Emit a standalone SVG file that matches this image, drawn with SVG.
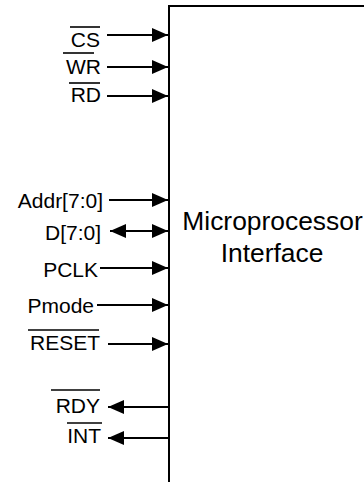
<svg xmlns="http://www.w3.org/2000/svg" width="364" height="482" viewBox="0 0 364 482">
<defs>
<style>
.lbl{font-family:"Liberation Sans",Arial,sans-serif;font-size:21px;fill:#000;text-anchor:end}
.big{font-family:"Liberation Sans",Arial,sans-serif;font-size:26.4px;fill:#000;text-anchor:middle}
.ov{stroke:#000;stroke-width:1.6}
.wire{stroke:#000;stroke-width:2;fill:none}
</style>
<marker id="ah" markerWidth="16" markerHeight="14" refX="16" refY="7" orient="auto-start-reverse" markerUnits="userSpaceOnUse">
<path d="M0,0 L16,7 L0,14 z" fill="#000"/>
</marker>
</defs>
<rect width="364" height="482" fill="#fff"/>
<g id="mpi">
<rect x="169" y="6" width="300" height="600" fill="none" stroke="#000" stroke-width="2"/>
<text class="big" x="272.5" y="230">Microprocessor</text>
<text class="big" x="272" y="262">Interface</text>
</g>
<g id="connectors">
<line class="wire" x1="107" y1="35" x2="168" y2="35" marker-end="url(#ah)"/>
<line class="wire" x1="107" y1="67" x2="168" y2="67" marker-end="url(#ah)"/>
<line class="wire" x1="107" y1="96" x2="168" y2="96" marker-end="url(#ah)"/>
<line class="wire" x1="109" y1="200" x2="168" y2="200" marker-end="url(#ah)"/>
<line class="wire" x1="110" y1="231" x2="168" y2="231" marker-start="url(#ah)" marker-end="url(#ah)"/>
<line class="wire" x1="100" y1="268" x2="168" y2="268" marker-end="url(#ah)"/>
<line class="wire" x1="97" y1="305" x2="168" y2="305" marker-end="url(#ah)"/>
<line class="wire" x1="108" y1="344" x2="168" y2="344" marker-end="url(#ah)"/>
<line class="wire" x1="108" y1="407" x2="169" y2="407" marker-start="url(#ah)"/>
<line class="wire" x1="108" y1="438" x2="169" y2="438" marker-start="url(#ah)"/>
</g>
<g id="cs"><text class="lbl" x="100" y="47">CS</text><line class="ov" x1="70" y1="27" x2="100" y2="27"/></g>
<g id="wr"><text class="lbl" x="101" y="74">WR</text><line class="ov" x1="63" y1="53" x2="94" y2="53"/></g>
<g id="rd"><text class="lbl" x="101" y="102">RD</text><line class="ov" x1="69" y1="83" x2="100" y2="83"/></g>
<g id="addr"><text class="lbl" x="103" y="208">Addr[7:0]</text></g>
<g id="d"><text class="lbl" x="101" y="240">D[7:0]</text></g>
<g id="pclk"><text class="lbl" x="98" y="277">PCLK</text></g>
<g id="pmode"><text class="lbl" x="94" y="313">Pmode</text></g>
<g id="reset"><text class="lbl" x="100" y="350">RESET</text><line class="ov" x1="28" y1="330" x2="99" y2="330"/></g>
<g id="rdy"><text class="lbl" x="100" y="413">RDY</text><line class="ov" x1="51" y1="390" x2="100" y2="390"/></g>
<g id="int"><text class="lbl" x="101" y="443">INT</text><line class="ov" x1="67" y1="423" x2="102" y2="423"/></g>
</svg>
